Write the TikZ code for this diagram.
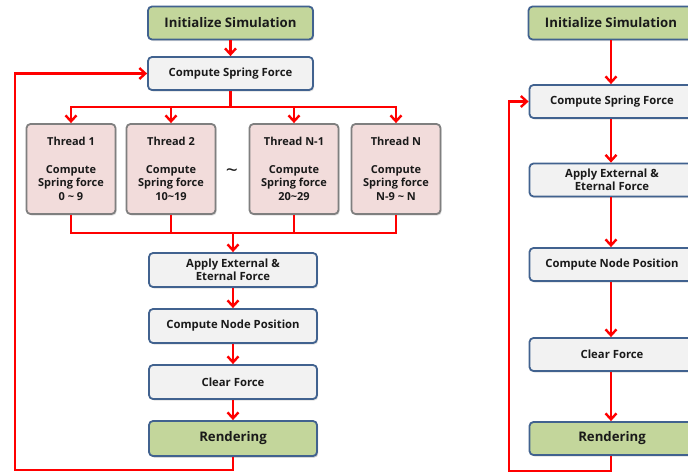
\documentclass[tikz,border=0pt]{standalone}
\usepackage{fontspec}
\setmainfont{Open Sans}
\usetikzlibrary{arrows.meta,shadows}
\definecolor{boxborder}{HTML}{41628F}
\definecolor{greenfill}{HTML}{C3D69B}
\definecolor{greyfill}{HTML}{F2F2F2}
\definecolor{pinkfill}{HTML}{F2DCDB}
\definecolor{threadborder}{HTML}{7F7F7F}
\definecolor{txt}{HTML}{1A1A1A}
\begin{document}
\begin{tikzpicture}[x=1pt,y=-1pt,
  box/.style={draw=boxborder, line width=1.8pt, rounded corners=4pt, fill=greyfill,
    minimum width=165pt, minimum height=33pt, inner sep=0pt, align=center, text=txt,
    font=\bfseries\fontsize{11.3}{12.5}\selectfont,
    drop shadow={shadow xshift=1.2pt,shadow yshift=-1.5pt,opacity=0.25}},
  lbox/.style={box, minimum width=168pt, minimum height=34pt},
  gbox/.style={box, fill=greenfill, font=\bfseries\fontsize{13.2}{15}\selectfont},
  thr/.style={box, draw=threadborder, fill=pinkfill, minimum width=89pt, minimum height=90pt,
    font=\bfseries\fontsize{11}{13.8}\selectfont},
  flow/.style={draw=red, line width=2.4pt},
  arr/.style={flow, -{Straight Barb[length=6pt,width=11pt]}}
]
\useasboundingbox (0,0) rectangle (688,474);
\fill[white] (0,0) rectangle (688,474);

% ---------- left diagram ----------
\node[gbox] (init) at (230.5,23) {Initialize Simulation};
\node[box] (csf) at (230.5,73.5) {Compute Spring Force};
\node[thr] (t1) at (71,169) {Thread 1\\[13.8pt]Compute\\Spring force\\0 \textasciitilde{} 9};
\node[thr] (t2) at (171,169) {Thread 2\\[13.8pt]Compute\\Spring force\\10\textasciitilde19};
\node[thr] (t3) at (294,169) {Thread N-1\\[13.8pt]Compute\\Spring force\\20\textasciitilde29};
\node[thr] (t4) at (396,169) {Thread N\\[13.8pt]Compute\\Spring force\\N-9 \textasciitilde{} N};
\node[font=\fontsize{21}{21}\selectfont, text=txt] (tilde) at (232,173) {\textasciitilde};
\node[lbox] (apply) at (233,270) {Apply External \&\\Eternal Force};
\node[lbox] (cnp) at (233,326) {Compute Node Position};
\node[lbox] (clr) at (233,382) {Clear Force};
\node[lbox, gbox, minimum width=168pt, minimum height=35pt] (rend) at (233,438.5) {Rendering};

\coordinate (split) at (230.5,107);
\coordinate (sl) at (71,107);
\coordinate (sr) at (396,107);
\coordinate (jl) at (71,233);
\coordinate (jr) at (396,233);
\coordinate (join) at (233,233);
\coordinate (lb) at (233,470);
\coordinate (lbl) at (15,470);
\coordinate (ltl) at (15,73.5);

\draw[arr] (init) -- (csf);
\draw[flow] (csf.south) -- (split);
\draw[flow, line cap=rect] (sl) -- (sr);
\foreach \t in {t1,t2,t3,t4} {
  \draw[arr] (split -| \t.north) -- (\t.north);
  \draw[flow] (\t.south) -- (join -| \t.south);
}
\draw[flow, line cap=rect] (jl) -- (jr);
\draw[arr] (join) -- (apply.north);
\draw[arr] (apply) -- (cnp);
\draw[arr] (cnp) -- (clr);
\draw[arr] (clr) -- (rend);
\draw[arr] (rend.south) -- (lb) -- (lbl) -- (ltl) -- (csf.west);

% ---------- right diagram ----------
\node[gbox] (init2) at (611,23) {Initialize Simulation};
\node[box] (csf2) at (612,101.5) {Compute Spring Force};
\node[box] (apply2) at (612,180) {Apply External \&\\Eternal Force};
\node[box] (cnp2) at (612,264.5) {Compute Node Position};
\node[box] (clr2) at (612,354.5) {Clear Force};
\node[gbox] (rend2) at (612,438.5) {Rendering};

\coordinate (rb) at (611,471);
\coordinate (rbl) at (509,471);
\coordinate (rtl) at (509,101.5);

\draw[arr] (init2.south -| 611,0) -- (csf2.north -| 611,0);
\draw[arr] (csf2.south -| 611,0) -- (apply2.north -| 611,0);
\draw[arr] (apply2.south -| 611,0) -- (cnp2.north -| 611,0);
\draw[arr] (cnp2.south -| 611,0) -- (clr2.north -| 611,0);
\draw[arr] (clr2.south -| 611,0) -- (rend2.north -| 611,0);
\draw[arr] (rend2.south -| 611,0) -- (rb) -- (rbl) -- (rtl) -- (csf2.west);
\end{tikzpicture}
\end{document}
